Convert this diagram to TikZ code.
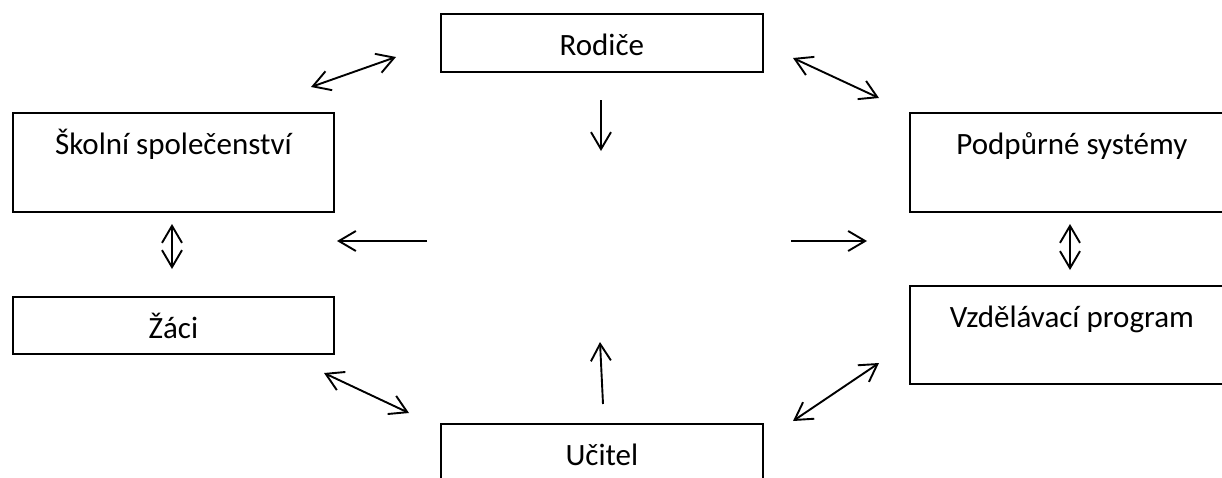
\documentclass[tikz,border=0pt]{standalone}
\usepackage{fontspec}
\setmainfont{Carlito}
\usetikzlibrary{arrows.meta}
\begin{document}
\begin{tikzpicture}[x=1pt,y=-1pt,
  box/.style={draw=black, line width=1.8pt, inner sep=0pt, anchor=north west,
    text height=42pt, align=center, font=\fontsize{31}{37}\selectfont},
  conn/.style={line width=1.9pt, -{Straight Barb[length=17pt,width=20pt]}},
  dconn/.style={line width=1.9pt, {Straight Barb[length=17pt,width=20pt]}-{Straight Barb[length=17pt,width=20pt]}}
]
\useasboundingbox (0,0) rectangle (1222,477);
\clip (0,0) rectangle (1222,477);

\node[box, minimum width=322pt, text depth=16pt] (rodice) at (440,13) {Rodiče};
\node[box, minimum width=321pt, text depth=57pt] (skola) at (12,112) {Školní společenství};
\node[box, minimum width=324pt, text depth=57pt] (podpora) at (909,112) {Podpůrné systémy};
\node[box, minimum width=321pt, text depth=15pt] (zaci) at (12,296) {Žáci};
\node[box, minimum width=324pt, text depth=56pt] (program) at (909,285) {Vzdělávací program};
\node[box, minimum width=322pt, text depth=30pt] (ucitel) at (440,423) {Učitel};

% arrow end points
\coordinate (a1s) at (311,87);  \coordinate (a1e) at (396,57);
\coordinate (a2s) at (793,58);  \coordinate (a2e) at (879,98);
\coordinate (a3s) at (172,224); \coordinate (a3e) at (172,269);
\coordinate (a4s) at (1070,224);\coordinate (a4e) at (1070,270);
\coordinate (a5s) at (324,373); \coordinate (a5e) at (409,413);
\coordinate (a6s) at (793,421); \coordinate (a6e) at (879,363);
\coordinate (dns) at (601,100); \coordinate (dne) at (601,151);
\coordinate (ups) at (603,404); \coordinate (upe) at (600,342);
\coordinate (lfs) at (427,241); \coordinate (lfe) at (337,241);
\coordinate (rts) at (791,241); \coordinate (rte) at (867,241);

\draw[dconn] (a1s) -- (a1e);
\draw[dconn] (a2s) -- (a2e);
\draw[dconn] (a3s) -- (a3e);
\draw[dconn] (a4s) -- (a4e);
\draw[dconn] (a5s) -- (a5e);
\draw[dconn] (a6s) -- (a6e);
\draw[conn] (dns) -- (dne);
\draw[conn] (ups) -- (upe);
\draw[conn] (lfs) -- (lfe);
\draw[conn] (rts) -- (rte);
\end{tikzpicture}
\end{document}
